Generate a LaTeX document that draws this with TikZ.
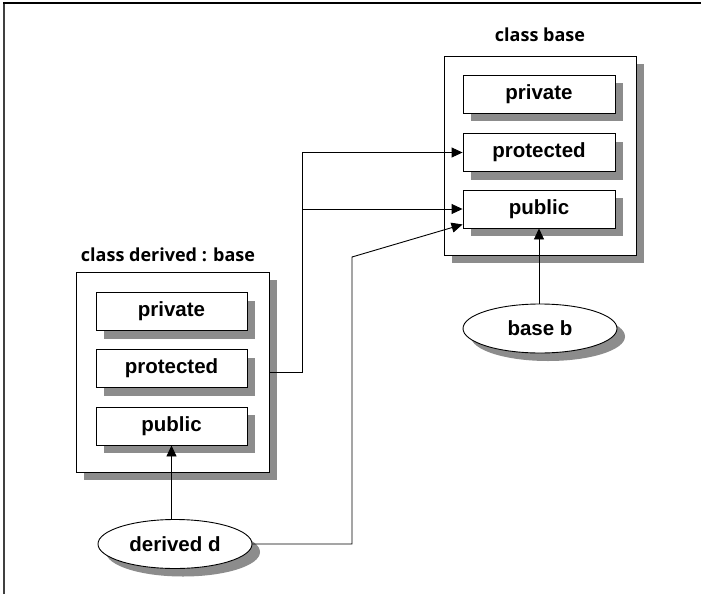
\documentclass[tikz,border=0pt]{standalone}
\usepackage{fontspec}
\setmainfont{Liberation Sans}
\newfontfamily\titlefont{Open Sans}
\usetikzlibrary{arrows.meta,shadows,shapes.geometric,calc}
\begin{document}
\begin{tikzpicture}[x=1pt,y=-1pt,
  shade/.style={drop shadow={shadow xshift=8pt,shadow yshift=-8pt,fill=black!45,opacity=1}},
  outer/.style={draw=black,line width=0.9pt,fill=white,shade,minimum width=192pt,minimum height=199pt,inner sep=0pt},
  member/.style={draw=black,line width=0.9pt,fill=white,shade,minimum width=152pt,minimum height=38pt,inner sep=0pt,font=\bfseries\fontsize{20.5}{22}\selectfont},
  obj/.style={ellipse,draw=black,line width=0.9pt,fill=white,shade,minimum width=154pt,minimum height=49pt,inner sep=0pt,font=\bfseries\fontsize{20.5}{22}\selectfont},
  title/.style={font=\titlefont\bfseries\fontsize{18}{20}\selectfont,inner sep=0pt},
  arr/.style={line width=0.9pt,-{Triangle[length=11pt,width=10pt]}},
  con/.style={line width=0.9pt}]
\useasboundingbox (0,0) rectangle (701,594);
\fill[white] (0,0) rectangle (701,594);
\draw[line width=1.6pt,black!75] (4,594) -- (4,3);
\draw[line width=1.6pt,black] (3,3) -- (701,3);
% class base
\node[title] (tb) at (540,35) {class base};
\node[outer] (bout) at (540,155.5) {};
\node[member] (bpriv) at (539,94) {private};
\node[member] (bprot) at (539,152.5) {protected};
\node[member] (bpub) at (539,209) {public};
% class derived
\node[title] (td) at (168,255) {class derived : base};
\node[outer,minimum width=193pt,minimum height=200pt] (dout) at (172.5,372) {};
\node[member,minimum width=151pt] (dpriv) at (171.5,311.5) {private};
\node[member,minimum width=151pt] (dprot) at (171.5,368.5) {protected};
\node[member,minimum width=151pt] (dpub) at (171.5,426) {public};
% objects
\node[obj] (dd) at (175,544) {derived d};
\node[obj] (bb) at (540,328.5) {base b};
% connectors
\coordinate (jv) at (302,372);
\draw[arr] (dout.east) -- (jv) |- (bprot.west);
\draw[arr] (jv |- bpub.west) -- (bpub.west);
\draw[arr] (dd.north -| dpub.south) -- (dpub.south);
\draw[arr] (bb.north -| bpub.south) -- (bpub.south);
\coordinate (dk) at (352,257);
\coordinate (tip) at ($(bpub.south west)+(0,-4)$);
\draw[arr] (dd.east) -| (dk) -- (tip);
\end{tikzpicture}
\end{document}
